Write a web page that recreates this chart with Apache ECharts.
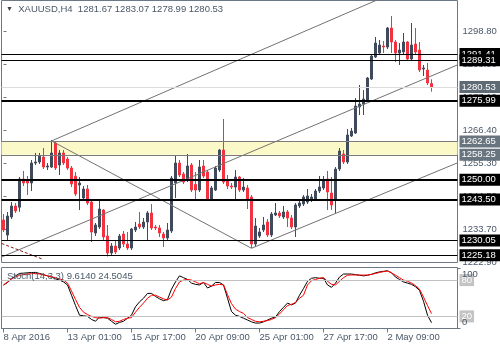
<!DOCTYPE html>
<html>
<head>
<meta charset="utf-8">
<script src="https://cdn.jsdelivr.net/npm/echarts@6/dist/echarts.min.js"></script>
<style>
  html, body { margin: 0; padding: 0; background: #ffffff; }
  #chart { width: 500px; height: 350px; }
</style>
</head>
<body>
<div id="chart"></div>
<script>
// XAUUSD H4 bars, 8 Apr 2016 09:00 onwards (open / high / low / close)
const opens = [
  1236.80, 1231.86, 1237.78, 1241.40, 1241.00, 1250.27, 1249.95, 1248.96, 1255.54, 1255.87,
  1257.51, 1254.22, 1254.22, 1262.12, 1254.88, 1258.83, 1256.85, 1253.89, 1251.20, 1248.30,
  1244.03, 1246.99, 1242.71, 1232.52, 1234.49, 1240.08, 1231.53, 1225.94, 1228.24, 1227.59,
  1232.19, 1228.90, 1227.59, 1233.51, 1235.48, 1234.49, 1236.14, 1239.10, 1234.49, 1234.17,
  1232.19, 1230.88, 1233.18, 1249.00, 1255.54, 1251.92, 1249.95, 1254.88, 1248.50, 1246.66,
  1254.55, 1252.58, 1243.70, 1246.66, 1253.24, 1259.81, 1249.62, 1247.97, 1247.64, 1250.93,
  1246.66, 1247.32, 1244.36, 1228.90, 1231.53, 1233.51, 1236.14, 1231.86, 1238.44, 1239.10,
  1237.78, 1239.43, 1237.45, 1234.49, 1241.40, 1242.06, 1242.71, 1243.37, 1243.70, 1246.33,
  1247.32, 1250.27, 1245.67, 1243.37, 1253.56, 1258.50, 1255.87, 1264.42, 1265.40, 1273.95,
  1274.94, 1276.26, 1283.16, 1290.40, 1291.71, 1294.01, 1293.68, 1299.93, 1295.33, 1291.71,
  1292.04, 1295.33, 1289.74, 1294.67, 1292.70, 1286.45, 1286.12, 1281.67
];
const highs = [
  1238.77, 1239.43, 1242.71, 1242.39, 1250.93, 1252.91, 1251.26, 1256.53, 1258.83, 1258.83,
  1260.47, 1255.54, 1263.10, 1262.77, 1259.81, 1259.81, 1257.51, 1254.55, 1252.58, 1250.93,
  1247.97, 1248.30, 1243.37, 1235.81, 1243.37, 1240.41, 1235.15, 1229.23, 1229.89, 1232.19,
  1233.18, 1232.85, 1234.17, 1236.14, 1239.43, 1237.45, 1239.76, 1242.06, 1235.15, 1235.15,
  1232.85, 1235.81, 1251.26, 1258.17, 1256.53, 1252.58, 1258.50, 1255.54, 1252.58, 1256.53,
  1256.53, 1253.24, 1247.97, 1254.55, 1260.14, 1270.01, 1251.59, 1248.96, 1253.24, 1251.26,
  1250.60, 1248.30, 1245.01, 1237.45, 1234.17, 1237.78, 1237.13, 1239.43, 1242.39, 1239.76,
  1241.40, 1240.08, 1238.44, 1242.39, 1243.37, 1245.01, 1246.99, 1245.34, 1246.99, 1251.26,
  1251.26, 1252.91, 1250.93, 1254.22, 1260.47, 1259.81, 1266.72, 1267.05, 1276.91, 1281.19,
  1279.54, 1283.82, 1291.05, 1296.97, 1295.99, 1295.66, 1300.26, 1303.88, 1295.99, 1295.00,
  1298.29, 1295.66, 1301.58, 1299.93, 1295.33, 1287.77, 1288.42, 1283.07
];
const lows = [
  1232.85, 1229.89, 1237.13, 1239.10, 1239.50, 1247.97, 1245.01, 1246.33, 1254.88, 1255.21,
  1253.56, 1253.24, 1253.89, 1253.24, 1251.59, 1254.88, 1253.24, 1247.64, 1244.69, 1240.08,
  1243.37, 1241.73, 1229.56, 1231.53, 1233.84, 1230.22, 1224.80, 1225.30, 1225.61, 1226.93,
  1227.92, 1226.93, 1226.93, 1232.85, 1233.84, 1233.84, 1230.22, 1233.51, 1233.51, 1231.21,
  1227.92, 1230.22, 1232.52, 1244.00, 1250.93, 1248.63, 1249.29, 1246.00, 1243.37, 1246.00,
  1250.60, 1243.37, 1243.04, 1246.33, 1252.58, 1248.63, 1246.99, 1246.99, 1243.70, 1246.00,
  1246.00, 1240.41, 1227.59, 1227.92, 1230.88, 1232.85, 1231.21, 1231.21, 1238.11, 1237.45,
  1237.13, 1234.49, 1233.84, 1231.21, 1240.74, 1241.40, 1242.06, 1242.71, 1243.04, 1245.67,
  1246.66, 1240.08, 1240.08, 1239.10, 1252.91, 1255.21, 1255.21, 1264.09, 1265.07, 1271.32,
  1271.32, 1275.60, 1282.83, 1290.07, 1291.05, 1291.71, 1293.03, 1291.71, 1288.75, 1287.77,
  1291.38, 1289.08, 1289.41, 1291.38, 1285.46, 1284.15, 1281.19, 1278.99
];
const closes = [
  1233.51, 1238.11, 1241.40, 1239.76, 1250.27, 1248.96, 1248.96, 1255.54, 1255.87, 1257.84,
  1254.22, 1254.55, 1258.83, 1253.89, 1258.83, 1255.54, 1253.89, 1248.63, 1245.34, 1248.96,
  1246.99, 1242.39, 1232.85, 1235.15, 1240.41, 1231.21, 1225.94, 1228.24, 1226.27, 1231.53,
  1228.90, 1227.59, 1233.84, 1234.49, 1234.49, 1236.14, 1239.10, 1234.17, 1234.17, 1232.52,
  1230.88, 1233.51, 1250.60, 1255.54, 1251.59, 1249.29, 1254.55, 1246.66, 1246.66, 1254.22,
  1251.26, 1243.70, 1247.32, 1253.89, 1259.81, 1249.29, 1247.97, 1247.64, 1250.93, 1246.66,
  1247.64, 1243.37, 1228.90, 1234.82, 1232.85, 1235.15, 1231.86, 1238.77, 1239.10, 1238.11,
  1239.43, 1237.45, 1234.49, 1241.73, 1242.39, 1244.36, 1244.69, 1244.36, 1246.33, 1247.64,
  1249.95, 1246.00, 1241.73, 1253.56, 1259.48, 1255.87, 1264.75, 1266.06, 1274.28, 1274.94,
  1276.59, 1283.49, 1290.72, 1295.00, 1294.34, 1293.68, 1299.93, 1295.33, 1291.71, 1292.70,
  1295.33, 1289.74, 1294.34, 1292.04, 1286.12, 1286.78, 1281.85, 1280.53
];

// Stochastic (14,3,3): %K main line and %D signal line
const stochK = [
  71.7, 76, 82, 87, 91, 91.5, 92, 92.5, 92.7, 91,
  89, 87, 85, 82, 80, 77, 72, 55, 38, 22,
  21, 20, 15, 12, 19, 18, 17, 12, 7, 10,
  12, 17, 22, 36, 44, 50, 58, 58, 53, 49,
  46, 48, 65, 77, 87, 84, 81, 75, 73, 72,
  76, 67, 70, 76, 76, 72, 50, 28, 22, 20,
  17, 14, 11, 9, 9, 11, 14, 17, 19, 28,
  35, 42, 39, 42, 55, 66, 78, 83, 84, 83,
  83, 72, 68, 75, 85, 90, 90, 90, 89, 88,
  87, 88, 89.5, 92, 93.5, 94.5, 95.4, 92, 85, 81,
  77, 75, 73, 69, 63, 45, 22, 9.614
];
const stochD = [
  72, 77, 82, 85, 88, 89, 90, 90.5, 91, 90,
  88.5, 87, 85.5, 84, 82, 80, 75, 62, 48, 35,
  27, 23, 20, 18, 17, 18, 18, 15, 11, 12,
  15, 17, 18, 27, 35, 42, 50, 55, 55, 52,
  49, 47, 52, 66, 77, 80, 81, 80, 77, 74,
  76, 73, 70, 72, 73, 72, 56, 41, 32, 28,
  25, 18, 15, 12, 11, 12, 13, 15, 18, 24,
  31, 38, 40, 43, 50, 55, 72, 79, 81, 83,
  84, 78, 73, 72, 78, 84, 88, 88.5, 88.5, 88.3,
  88.3, 88.3, 89.5, 91, 92.7, 94, 94.9, 92, 88, 84,
  80, 78, 75, 71, 65, 52, 38, 24.5045
];

// time axis: one label every 16 bars
const timeLabels = ['8 Apr 2016', '13 Apr 01:00', '15 Apr 17:00', '20 Apr 09:00',
                    '25 Apr 01:00', '27 Apr 17:00', '2 May 09:00'];
const barsPerLabel = 16;
const emptyBarsRight = 6;

// price scale labels
const priceTicks = [1298.80, 1288.00, 1277.10, 1266.40, 1255.30, 1244.50, 1233.70, 1222.90];

// horizontal levels
const minorLevels = [1291.41, 1289.31, 1230.05, 1225.18];
const majorLevels = [1275.99, 1250.00, 1243.50];
const bidPrice = 1280.53;
const zone = [1262.65, 1258.25];

// trend lines as [bar index, price] anchor pairs
const channelTop = [[12, 1262.8], [94, 1309.5]];
const channelMid = [[-0.5, 1224.6], [113.5, 1287.8]];
const fallLine = [[12, 1262.8], [62, 1227.5]];
const channelLow = [[62, 1227.5], [113.5, 1255.6]];
const oldTrend = [[-0.5, 1229.1], [9.6, 1224.0]];

// oscillator scale
const stochLevels = [80, 20];
const stochBounds = [100, 0];

// ---- styling ----
const textColor = '#4a5868';
const frameColor = '#6b7886';
const bullColor = '#3f4b5b';
const bearColor = '#f2323f';
const trendColor = '#727272';
const fontFamily = 'Liberation Sans, Arial, sans-serif';
const fontSize = 9.5;

const barCount = opens.length;
const categories = [];
for (let i = 0; i < barCount + emptyBarsRight; i++) categories.push(String(i));
const candleData = opens.map((o, i) => [o, closes[i], lows[i], highs[i]]);

const showTime = (idx) => idx % barsPerLabel === 0 && idx / barsPerLabel < timeLabels.length;

function boxLabel(bg) {
  return { backgroundColor: bg };
}

const levelData = [];
levelData.push({ yAxis: zone[0], lineStyle: { color: '#7a7a7a', width: 1, type: 'solid' }, label: boxLabel('#69757e') });
levelData.push({ yAxis: zone[1], lineStyle: { color: '#7a7a7a', width: 1, type: 'solid' }, label: boxLabel('#69757e') });
levelData.push({ yAxis: bidPrice, lineStyle: { color: '#dcdcdc', width: 1, type: 'solid' }, label: boxLabel('#5e6b75') });
minorLevels.forEach(v => levelData.push({ yAxis: v, lineStyle: { color: '#000', width: 1, type: 'solid' }, label: boxLabel('#000') }));
majorLevels.forEach(v => levelData.push({ yAxis: v, lineStyle: { color: '#000', width: 2, type: 'solid' }, label: boxLabel('#000') }));

function trendSeries(points, color, type) {
  return {
    type: 'line', xAxisIndex: 2, yAxisIndex: 0, data: points,
    symbol: 'none', silent: true, clip: true, z: 3,
    lineStyle: { color: color, width: 1, type: type || 'solid' }
  };
}

// 100 sits just under the pane top, 0 just above the pane bottom
const boundCaption = (v, top) => ({
  text: String(v), left: 462, top: top, padding: 0,
  textStyle: { fontSize: fontSize, fontWeight: 'normal', color: textColor, fontFamily: fontFamily }
});

const chart = echarts.init(document.getElementById('chart'), null, { renderer: 'canvas' });

chart.setOption({
  animation: false,
  backgroundColor: '#ffffff',
  textStyle: { fontFamily: fontFamily },
  title: [
    {
      text: '{tri|▼}  XAUUSD,H4  1281.67 1283.07 1278.99 1280.53',
      left: 6, top: 4, padding: 0,
      textStyle: {
        fontSize: fontSize, fontWeight: 'normal', color: textColor, fontFamily: fontFamily,
        rich: { tri: { fontSize: 7, color: '#3a4550', fontFamily: fontFamily } }
      }
    },
    {
      text: 'Stoch(14,3,3) 9.6140 24.5045',
      left: 7, top: 271, padding: 0,
      textStyle: { fontSize: fontSize, fontWeight: 'normal', color: textColor, fontFamily: fontFamily }
    },
    boundCaption(stochBounds[0], 269),
    boundCaption(stochBounds[1], 317)
  ],
  grid: [
    { left: 1.5, width: 456, top: 0.5, height: 262, show: true, borderColor: frameColor, borderWidth: 1, backgroundColor: 'transparent' },
    { left: 1.5, width: 456, top: 267.5, height: 61, show: true, borderColor: frameColor, borderWidth: 1, backgroundColor: 'transparent' }
  ],
  xAxis: [
    {
      type: 'category', gridIndex: 0, data: categories, boundaryGap: true,
      axisLine: { show: false }, axisTick: { show: false }, axisLabel: { show: false }, splitLine: { show: false }
    },
    {
      type: 'category', gridIndex: 1, data: categories, boundaryGap: true,
      axisLine: { show: true, lineStyle: { color: frameColor, width: 1 } },
      axisTick: { show: true, alignWithLabel: true, interval: showTime, length: 4, lineStyle: { color: frameColor } },
      axisLabel: {
        interval: showTime, align: 'left', margin: 4,
        formatter: (val, idx) => timeLabels[idx / barsPerLabel] || '',
        color: textColor, fontSize: fontSize, fontFamily: fontFamily
      },
      splitLine: { show: false }
    },
    {
      type: 'value', gridIndex: 0, min: -0.5, max: barCount + emptyBarsRight - 0.5, show: false
    }
  ],
  yAxis: [
    {
      type: 'value', gridIndex: 0, position: 'right', min: 1222.82, max: 1308.98,
      axisLine: { show: false }, splitLine: { show: false },
      axisTick: { show: true, customValues: priceTicks, length: 3, lineStyle: { color: frameColor } },
      axisLabel: {
        customValues: priceTicks, margin: 5,
        formatter: v => v.toFixed(2),
        color: textColor, fontSize: fontSize, fontFamily: fontFamily
      }
    },
    {
      type: 'value', gridIndex: 1, position: 'right', min: 0, max: 100.8,
      axisLine: { show: false }, splitLine: { show: false },
      axisTick: { show: true, customValues: stochBounds, length: 3, lineStyle: { color: frameColor } },
      axisLabel: { show: false }
    }
  ],
  series: [
    {
      type: 'candlestick', xAxisIndex: 0, yAxisIndex: 0, data: candleData,
      barWidth: 3, z: 2,
      itemStyle: { color: bullColor, color0: bearColor, borderColor: bullColor, borderColor0: bearColor, borderWidth: 1 },
      markArea: {
        silent: true,
        itemStyle: { color: '#fcf9c8' },
        data: [[{ yAxis: zone[0] }, { yAxis: zone[1] }]]
      },
      markLine: {
        symbol: ['none', 'none'], silent: true, animation: false,
        label: {
          show: true, position: 'end', distance: 2,
          formatter: p => Number(p.value).toFixed(2),
          color: '#ffffff', fontSize: fontSize, fontFamily: fontFamily,
          padding: [1, 6, 0, 2], lineHeight: 11
        },
        data: levelData
      }
    },
    trendSeries(channelTop, trendColor),
    trendSeries(channelMid, trendColor),
    trendSeries(fallLine, trendColor),
    trendSeries(channelLow, trendColor),
    trendSeries(oldTrend, '#8b1a1a', [3, 2]),
    {
      type: 'line', xAxisIndex: 1, yAxisIndex: 1, data: stochK,
      symbol: 'none', silent: true, z: 3,
      lineStyle: { color: '#000000', width: 1 },
      markLine: {
        symbol: ['none', 'none'], silent: true, animation: false,
        lineStyle: { color: '#c0c0c0', width: 1, type: 'solid' },
        label: {
          show: true, position: 'end', distance: 2,
          formatter: p => String(p.value),
          color: '#ffffff', backgroundColor: '#c3c3c3',
          fontSize: fontSize, fontFamily: fontFamily, padding: [1, 2, 0, 2], lineHeight: 11
        },
        data: stochLevels.map(v => ({ yAxis: v }))
      }
    },
    {
      type: 'line', xAxisIndex: 1, yAxisIndex: 1, data: stochD,
      symbol: 'none', silent: true, z: 4,
      lineStyle: { color: '#ff0000', width: 1 }
    }
  ]
});
</script>
</body>
</html>
